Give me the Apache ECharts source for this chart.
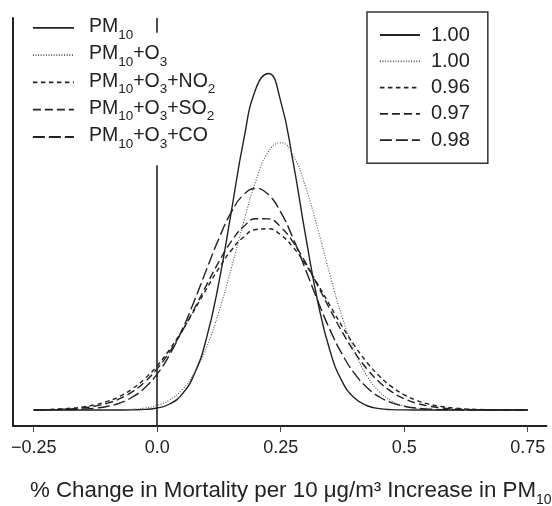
<!DOCTYPE html>
<html><head><meta charset="utf-8">
<script src="https://cdn.jsdelivr.net/npm/echarts@6/dist/echarts.min.js"></script>
<style>html,body{margin:0;padding:0;background:#fff}#c{width:552px;height:506px}</style>
</head><body><div id="c"></div>
<script>
// x positions (% change) at which curve heights were read
const xs = [-0.25,-0.225,-0.2,-0.175,-0.15,-0.125,-0.1,-0.075,-0.05,-0.025,0,0.025,0.05,0.075,0.1,0.125,0.15,0.175,0.2,0.225,0.25,0.275,0.3,0.325,0.35,0.375,0.4,0.425,0.45,0.475,0.5,0.525,0.55,0.575,0.6,0.625,0.65,0.675,0.7,0.725,0.75];
const pm10 = [0,0,0,0,0,0,0.0001,0.0006,0.003,0.01,0.034,0.103,0.268,0.615,1.242,2.196,3.407,4.63,5.521,5.772,5.293,4.257,3.003,1.857,1.007,0.479,0.2,0.073,0.023,0.007,0.002,0.0004,0.0001,0,0,0,0,0,0,0,0];
const pm10o3 = [0,0,0,0,0.0001,0.0005,0.0015,0.005,0.013,0.033,0.079,0.172,0.344,0.635,1.079,1.688,2.433,3.225,3.938,4.429,4.585,4.371,3.835,3.1,2.308,1.58,0.997,0.579,0.31,0.152,0.069,0.029,0.011,0.004,0.0013,0.0004,0.0001,0,0,0,0];
const pm10o3no2 = [0.004,0.009,0.016,0.03,0.053,0.092,0.151,0.239,0.366,0.537,0.76,1.036,1.358,1.714,2.082,2.434,2.74,2.969,3.096,3.108,3.003,2.792,2.5,2.155,1.787,1.427,1.097,0.811,0.578,0.396,0.261,0.166,0.101,0.06,0.034,0.018,0.01,0.005,0.002,0.001,0.0005];
const pm10o3so2 = [0.002,0.005,0.01,0.02,0.038,0.068,0.119,0.198,0.316,0.484,0.71,0.999,1.345,1.737,2.147,2.546,2.892,3.146,3.281,3.278,3.138,2.879,2.531,2.131,1.721,1.331,0.985,0.7,0.476,0.31,0.194,0.116,0.067,0.037,0.019,0.01,0.005,0.002,0.001,0.0004,0.0002];
const pm10o3co = [0.0004,0.001,0.003,0.007,0.015,0.032,0.064,0.123,0.223,0.383,0.619,0.948,1.37,1.871,2.414,2.944,3.393,3.694,3.8,3.694,3.393,2.944,2.414,1.871,1.37,0.948,0.619,0.383,0.223,0.123,0.064,0.032,0.015,0.007,0.003,0.001,0.0004,0.0001,0,0,0];
const seriesNames = ['PM10','PM10+O3','PM10+O3+NO2','PM10+O3+SO2','PM10+O3+CO'];
const probLabels = ['1.00','1.00','0.96','0.97','0.98'];
const tickValues = [-0.25,0,0.25,0.5,0.75];
const tickLabels = ['\u22120.25','0.0','0.25','0.5','0.75'];
const xTitle = '% Change in Mortality per 10 \u03bcg/m\u00b3 Increase in PM';
const xTitleSub = '10';

const FONT = "'Liberation Sans', Arial, Helvetica, sans-serif";
const INK = '#222';
const seriesValues = [pm10, pm10o3, pm10o3no2, pm10o3so2, pm10o3co];
const dashes = ['solid', [1, 1.6], [4.5, 3.5], [8, 4], [12, 4]];
const widths = [1.4, 1.1, 1.4, 1.4, 1.4];
const colors = ['#222', '#555', '#222', '#222', '#222'];

const chart = echarts.init(document.getElementById('c'), null, {renderer: 'canvas'});

function richName(name) {
  let s = '{m|' + name.replace(/(\d+)/g, '}{s|$1}{m|') + '}';
  return s.replace(/\{m\|\}/g, '');
}

const series = seriesValues.map((vals, i) => ({
  name: seriesNames[i],
  type: 'line',
  data: xs.map((x, j) => [x, vals[j]]),
  smooth: 0.5,
  symbol: 'none',
  silent: true,
  animation: false,
  z: 3,
  lineStyle: {color: colors[i], width: widths[i], type: dashes[i]},
  itemStyle: {color: colors[i]},
  emphasis: {disabled: true}
}));

// vertical reference line at x = 0 (interrupted behind the left legend)
series[0].markLine = {
  silent: true,
  symbol: 'none',
  animation: false,
  label: {show: false},
  lineStyle: {color: '#222', width: 1.6, type: 'solid'},
  emphasis: {disabled: true},
  data: [
    [{coord: [0, 6.724]}, {coord: [0, 6.47]}],
    [{coord: [0, 4.20]}, {coord: [0, -0.2744]}]
  ]
};

const legendCommon = {
  orient: 'vertical',
  selectedMode: false,
  data: seriesNames,
  itemStyle: {opacity: 0, borderWidth: 0},
  lineStyle: {width: 1.8},
  inactiveColor: '#222'
};

const option = {
  backgroundColor: '#fff',
  animation: false,
  grid: {left: 13, right: 5.5, top: 18, bottom: 80, containLabel: false},
  xAxis: {
    type: 'value',
    min: -0.292,
    max: 0.788,
    axisLine: {show: true, onZero: false, lineStyle: {color: INK, width: 2}},
    axisTick: {show: true, customValues: tickValues, length: 6, inside: false, lineStyle: {color: '#444', width: 1}},
    axisLabel: {
      show: true,
      customValues: tickValues,
      margin: 13,
      color: INK,
      fontSize: 18,
      fontFamily: FONT,
      formatter: function (v) {
        const k = tickValues.findIndex(t => Math.abs(t - v) < 1e-9);
        return k >= 0 ? tickLabels[k] : '';
      }
    },
    splitLine: {show: false}
  },
  yAxis: {
    type: 'value',
    min: -0.2744,
    max: 6.724,
    axisLine: {show: true, onZero: false, lineStyle: {color: INK, width: 2}},
    axisTick: {show: false},
    axisLabel: {show: false},
    splitLine: {show: false}
  },
  legend: [
    Object.assign({}, legendCommon, {
      left: 32,
      top: 16.8,
      padding: 0,
      itemGap: 2.3,
      itemWidth: 41,
      itemHeight: 14,
      formatter: richName,
      textStyle: {
        color: INK,
        fontFamily: FONT,
        padding: [0, 0, 0, 10],
        rich: {
          m: {fontSize: 19.5, lineHeight: 22, verticalAlign: 'top', fontFamily: FONT, color: INK},
          s: {fontSize: 13.5, lineHeight: 14, verticalAlign: 'top', padding: [11, 0, 0, 0], fontFamily: FONT, color: INK}
        }
      }
    }),
    Object.assign({}, legendCommon, {
      left: 367,
      top: 12,
      padding: [12, 18, 12, 12],
      itemGap: 4.3,
      itemWidth: 40,
      itemHeight: 14,
      borderColor: '#333',
      borderWidth: 1.5,
      backgroundColor: '#fff',
      formatter: function (name) { return probLabels[seriesNames.indexOf(name)]; },
      textStyle: {color: INK, fontFamily: FONT, fontSize: 20, lineHeight: 22, padding: [0, 0, 0, 6]}
    })
  ],
  graphic: [
    {
      type: 'text',
      left: 30,
      top: 480,
      silent: true,
      style: {
        text: '{m|' + xTitle + '}{s|' + xTitleSub + '}',
        fill: INK,
        rich: {
          m: {fontSize: 22.3, lineHeight: 24, verticalAlign: 'top', fontFamily: FONT, fill: INK},
          s: {fontSize: 14, lineHeight: 14, verticalAlign: 'top', padding: [13, 0, 0, 0], fontFamily: FONT, fill: INK}
        }
      }
    }
  ],
  series: series
};
chart.setOption(option);
</script>
</body></html>
